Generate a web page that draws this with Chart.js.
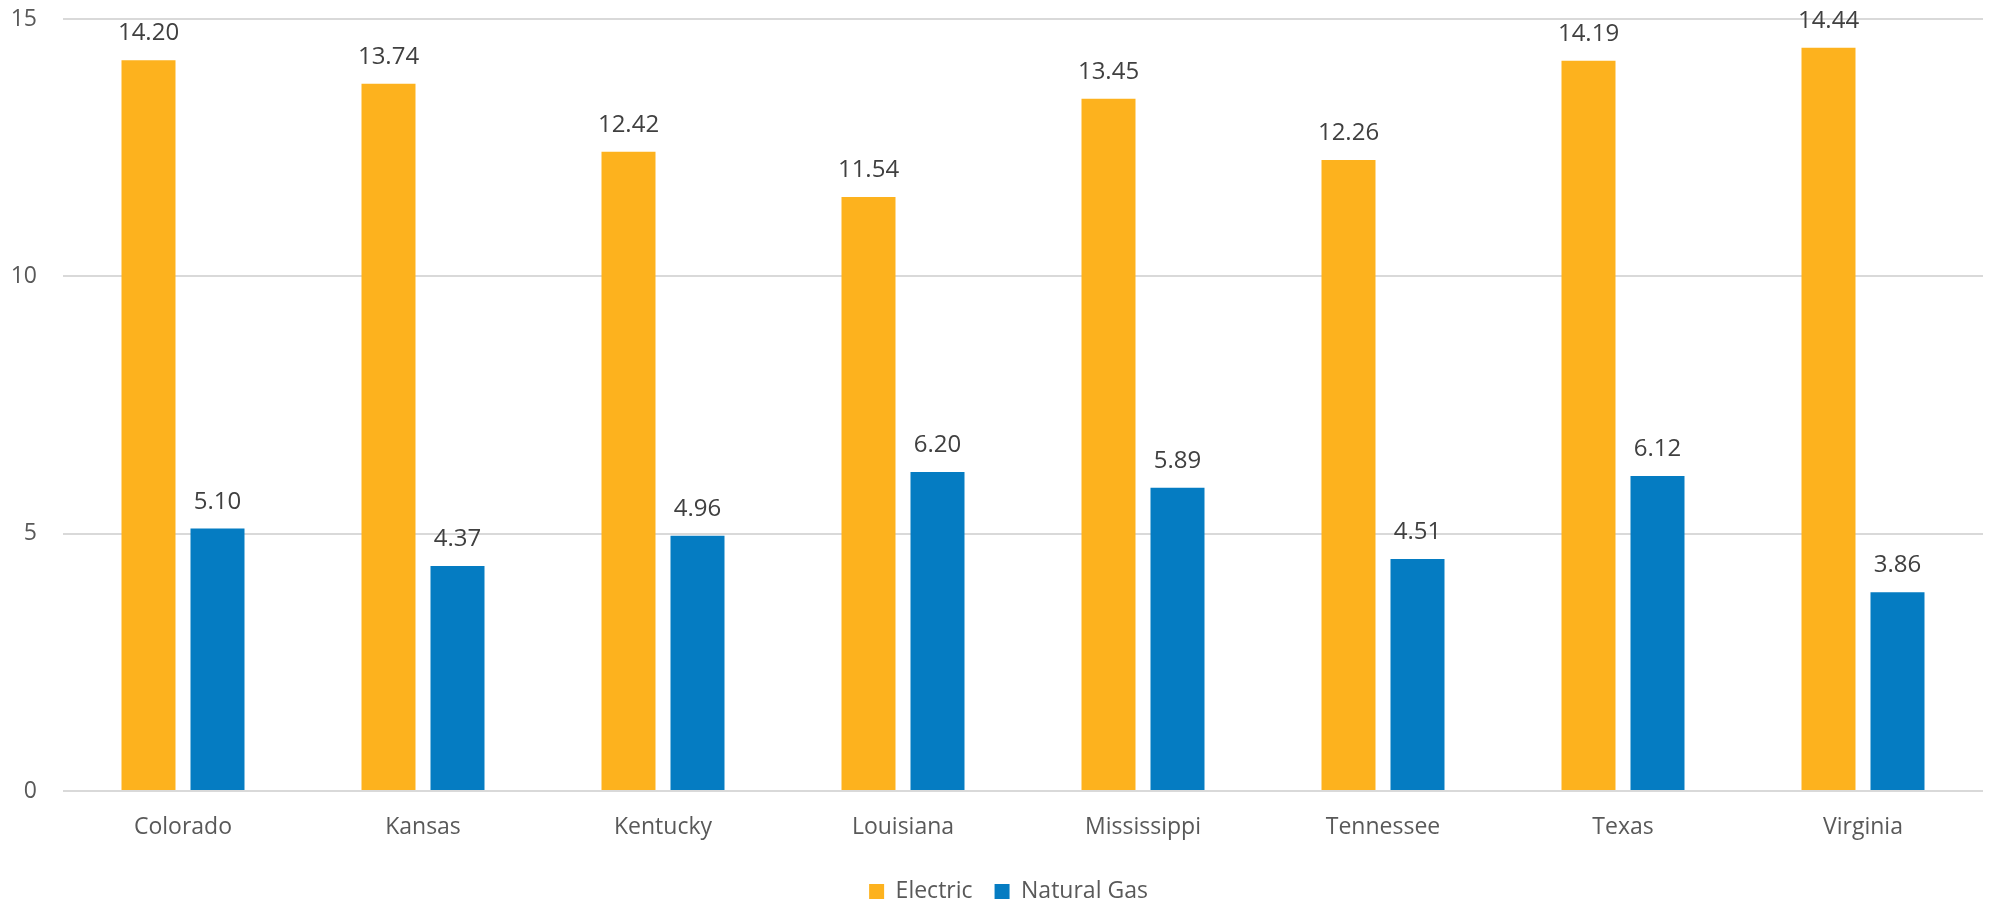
<!DOCTYPE html>
<html>
<head>
<meta charset="utf-8">
<script src="https://cdn.jsdelivr.net/npm/chart.js@4/dist/chart.umd.min.js"></script>
<style>
  html, body { margin: 0; padding: 0; background: #fff; }
  #wrap { width: 1994px; height: 900px; position: relative; }
</style>
</head>
<body>
<div id="wrap"><canvas id="costChart"></canvas></div>
<script>
const states = ['Colorado', 'Kansas', 'Kentucky', 'Louisiana', 'Mississippi', 'Tennessee', 'Texas', 'Virginia'];
const electric = [14.20, 13.74, 12.42, 11.54, 13.45, 12.26, 14.19, 14.44];
const naturalGas = [5.10, 4.37, 4.96, 6.20, 5.89, 4.51, 6.12, 3.86];
const yTicks = [0, 5, 10, 15];

const FONT = '"Open Sans", "Liberation Sans", sans-serif';

// value labels above each bar
const barValues = {
  id: 'barValues',
  afterDatasetsDraw(chart) {
    const ctx = chart.ctx;
    ctx.save();
    ctx.font = '24px ' + FONT;
    ctx.fillStyle = '#404040';
    ctx.textAlign = 'center';
    ctx.textBaseline = 'alphabetic';
    chart.data.datasets.forEach((ds, i) => {
      chart.getDatasetMeta(i).data.forEach((bar, j) => {
        ctx.fillText(ds.data[j].toFixed(2), bar.x, bar.y - 20);
      });
    });
    ctx.restore();
  }
};

// nudge the legend a little to the right of the canvas centre
const legendShift = {
  id: 'legendShift',
  afterLayout(chart) {
    if (chart.legend) {
      chart.legend.left += 17;
      chart.legend.right += 17;
    }
  }
};

new Chart(document.getElementById('costChart'), {
  type: 'bar',
  data: {
    labels: states,
    datasets: [
      { label: 'Electric', data: electric, backgroundColor: '#FDB21E' },
      { label: 'Natural Gas', data: naturalGas, backgroundColor: '#057CC2' }
    ]
  },
  options: {
    responsive: true,
    maintainAspectRatio: false,
    animation: false,
    categoryPercentage: 0.575,
    barPercentage: 0.7826,
    layout: { padding: { top: 19, right: 11, left: 0, bottom: -13 } },
    plugins: {
      legend: {
        position: 'bottom',
        labels: {
          font: { family: FONT, size: 23 },
          color: '#595959',
          boxWidth: 15,
          boxHeight: 15,
          padding: 22
        }
      },
      tooltip: { enabled: false }
    },
    scales: {
      x: {
        afterFit(axis) { axis.height = 67; },
        grid: { display: false },
        border: { display: false },
        ticks: {
          font: { family: FONT, size: 23 },
          color: '#595959',
          padding: 15
        }
      },
      y: {
        min: 0,
        max: 15,
        afterBuildTicks(axis) { axis.ticks = yTicks.map(v => ({ value: v })); },
        afterFit(axis) {
          axis.width = 63;
          axis.paddingTop = 0;
          axis.paddingBottom = 0;
        },
        grid: { color: '#D9D9D9', lineWidth: 2, drawTicks: false },
        border: { display: false },
        ticks: {
          font: { family: FONT, size: 23 },
          color: '#595959',
          padding: 26
        }
      }
    }
  },
  plugins: [barValues, legendShift]
});
</script>
</body>
</html>
